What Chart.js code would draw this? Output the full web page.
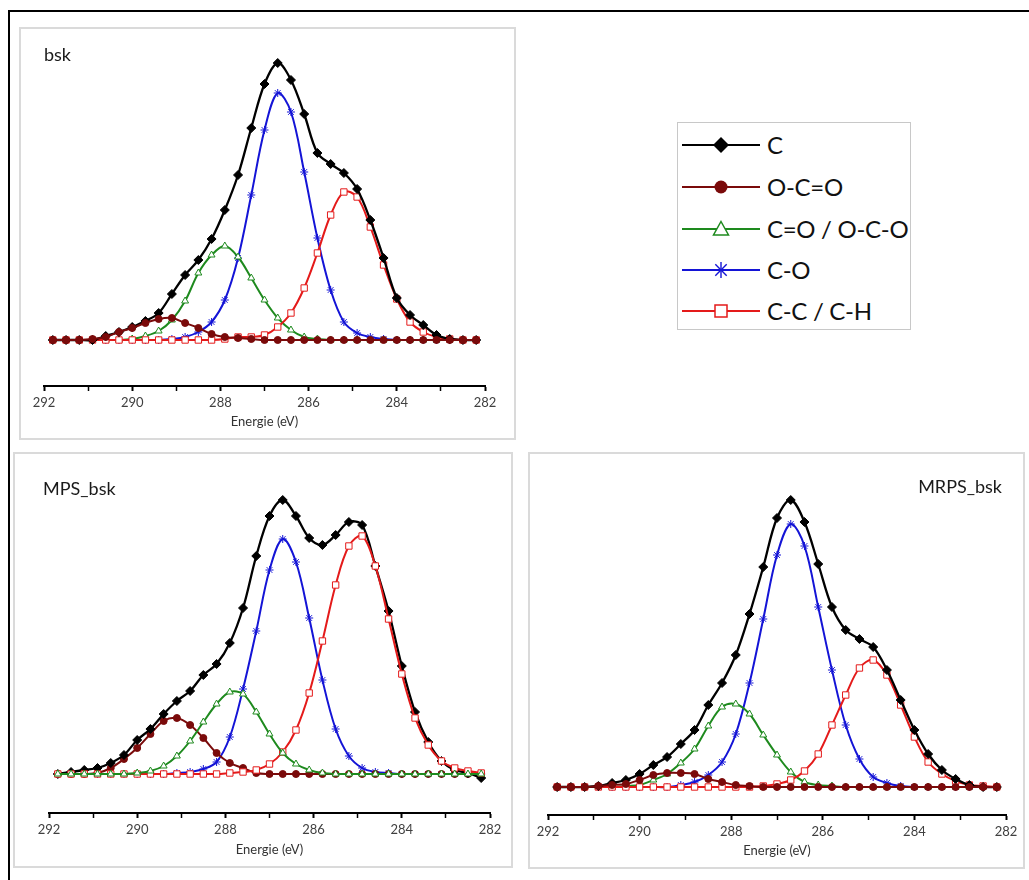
<!DOCTYPE html>
<html>
<head>
<meta charset="utf-8">
<title>XPS C1s</title>
<script src="https://cdn.jsdelivr.net/npm/chart.js@4.4.1/dist/chart.umd.min.js"></script>
<style>
  body { margin: 0; background: #fff; font-family: Lato, "Noto Sans", sans-serif; }
  #page { position: relative; width: 1029px; height: 880px; overflow: hidden; }
  .frame { position: absolute; left: 8px; top: 10px; width: 1100px; height: 900px;
           border-top: 2px solid #000; border-left: 2px solid #000; }
  .panel { position: absolute; box-sizing: border-box; border: 2px solid #dadada; background: #fff; }
  .panel canvas { position: absolute; left: 0; top: 0; }
  .tag { position: absolute; font-size: 18px; line-height: 18px; color: #1a1a1a; white-space: nowrap; }
  #legend { position: absolute; left: 677px; top: 122px; width: 234px; height: 208px;
            box-sizing: border-box; border: 1px solid #c8c8c8; background: #fff; }
  .lg-sym { position: absolute; left: 4px; width: 78px; height: 24px; }
  .lg-txt { position: absolute; left: 89px; font-size: 24px; line-height: 24px; color: #111;
            white-space: nowrap; letter-spacing: -0.3px; }
</style>
</head>
<body>
<div id="page">
  <div class="frame"></div>

  <div class="panel" style="left:19px; top:27px; width:497px; height:413px;">
    <canvas id="chartBsk" width="493" height="409"></canvas>
  </div>
  <div class="tag" style="left:44px; top:45px;">bsk</div>

  <div class="panel" style="left:13px; top:452px; width:500px; height:416px;">
    <canvas id="chartMps" width="496" height="412"></canvas>
  </div>
  <div class="tag" style="left:43px; top:479px;">MPS_bsk</div>

  <div class="panel" style="left:528px; top:452px; width:497px; height:417px;">
    <canvas id="chartMrps" width="493" height="413"></canvas>
  </div>
  <div class="tag" style="right:27px; top:477px;">MRPS_bsk</div>

  <div id="legend"></div>
</div>

<script>
// Energie (eV), points de mesure
const energies = [291.8, 291.5, 291.2, 290.9, 290.6, 290.3, 290.0, 289.7, 289.4, 289.1, 288.8,
                  288.5, 288.2, 287.9, 287.6, 287.3, 287.0, 286.7, 286.4, 286.1, 285.8, 285.5,
                  285.2, 284.9, 284.6, 284.3, 284.0, 283.7, 283.4, 283.1, 282.8, 282.5, 282.2];

const xTicks = [292, 290, 288, 286, 284, 282];

const seriesNames = ['C', 'O-C=O', 'C=O / O-C-O', 'C-O', 'C-C / C-H'];

// bsk (intensité, u.a.)
const bskC     = [0, 0, 0, 0, 4, 8, 13, 19, 27, 46, 65, 80, 101, 130, 165, 212, 256, 277, 260, 226, 187, 176, 167, 151, 120, 82, 42, 25, 15, 5, 1, 0, 0];
const bskOCO   = [0, 0, 0, 1, 3, 8, 12, 17, 21, 22, 17, 12, 6, 3, 2, 1, 0, 0, 0, 0, 0, 0, 0, 0, 0, 0, 0, 0, 0, 0, 0, 0, 0];
const bskCO2   = [0, 0, 0, 0, 0, 0, 1, 4, 9, 20, 39, 67, 85, 94, 83, 62, 40, 22, 10, 3, 1, 0, 0, 0, 0, 0, 0, 0, 0, 0, 0, 0, 0];
const bskCO    = [0, 0, 0, 0, 0, 0, 0, 0, 0, 1, 3, 8, 18, 40, 82, 145, 210, 247, 228, 168, 102, 50, 18, 7, 3, 1, 0, 0, 0, 0, 0, 0, 0];
const bskCC    = [0, 0, 0, 0, 0, 0, 0, 0, 0, 0, 0, 0, 0, 1, 3, 3, 5, 13, 27, 52, 87, 125, 148, 143, 113, 75, 41, 18, 8, 3, 1, 0, 0];

// MPS_bsk
const mpsC     = [0, 2, 4, 6, 11, 19, 34, 45, 60, 73, 83, 99, 110, 131, 166, 218, 258, 274, 258, 236, 229, 239, 252, 249, 208, 163, 108, 62, 32, 13, 4, 1, -4];
const mpsOCO   = [0, 0, 0, 1, 6, 15, 26, 40, 53, 56, 49, 36, 21, 11, 6, 1, 0, 0, 0, 0, 0, 0, 0, 0, 0, 0, 0, 0, 0, 0, 0, 0, 0];
const mpsCO2   = [0, 0, 0, 0, 0, 0, 1, 3, 8, 18, 33, 52, 70, 82, 80, 62, 40, 21, 10, 4, 1, 0, 0, 0, 0, 0, 0, 0, 0, 0, 0, 0, 0];
const mpsCO    = [0, 0, 0, 0, 0, 0, 0, 0, 0, 1, 2, 5, 12, 37, 85, 143, 204, 235, 212, 156, 94, 45, 18, 6, 2, 1, 0, 0, 0, 0, 0, 0, 0];
const mpsCC    = [0, 0, 0, 0, 0, 0, 0, 0, 0, 0, 0, 0, 0, 1, 2, 4, 10, 22, 44, 81, 133, 189, 228, 238, 208, 155, 100, 56, 29, 13, 6, 3, 1];

// MRPS_bsk
const mrpsC    = [0, 0, 0, 1, 4, 7, 13, 22, 30, 43, 57, 82, 104, 132, 173, 220, 269, 287, 265, 223, 180, 157, 148, 140, 117, 87, 57, 33, 17, 8, 2, 0, 0];
const mrpsOCO  = [0, 0, 0, 1, 2, 3, 7, 12, 14, 14, 13, 8, 5, 2, 1, 0, 0, 0, 0, 0, 0, 0, 0, 0, 0, 0, 0, 0, 0, 0, 0, 0, 0];
const mrpsCO2  = [0, 0, 0, 0, 0, 1, 2, 7, 13, 24, 38, 61, 80, 83, 73, 52, 32, 15, 5, 2, 1, 0, 0, 0, 0, 0, 0, 0, 0, 0, 0, 0, 0];
const mrpsCO   = [0, 0, 0, 0, 0, 0, 0, 0, 0, 2, 5, 12, 25, 53, 104, 168, 232, 263, 241, 180, 117, 62, 28, 10, 4, 1, 0, 0, 0, 0, 0, 0, 0];
const mrpsCC   = [0, 0, 0, 0, 0, 0, 0, 0, 0, 0, 0, 0, 0, 0, 0, 1, 3, 7, 16, 33, 62, 92, 119, 127, 112, 82, 50, 25, 13, 6, 2, 1, 0];

// style de chaque composante
const styles = [
    { color: '#000000', point: 'rectRot',  radius: 4.5, fill: '#000000', width: 2.3 },
    { color: '#7a0a0a', point: 'circle',   radius: 3.5, fill: '#7a0a0a', width: 2 },
    { color: '#1e8a1e', point: 'triangle', radius: 4,   fill: '#ffffff', width: 2 },
    { color: '#1414d6', point: 'star',     radius: 4,   fill: '#1414d6', width: 2 },
    { color: '#e41a1a', point: 'rect',     radius: 4.5, fill: '#ffffff', width: 2 }
];

function toPoints(values) {
    return energies.map((e, i) => ({ x: e, y: values[i] }));
}

function makeChart(id, values, orders, yMin, yMax, pad, axisHeight) {
    const ctx = document.getElementById(id).getContext('2d');
    const datasets = values.map((v, k) => ({
        label: seriesNames[k],
        data: toPoints(v),
        borderColor: styles[k].color,
        borderWidth: styles[k].width,
        pointStyle: styles[k].point,
        pointRadius: styles[k].radius,
        pointBackgroundColor: styles[k].fill,
        pointBorderColor: styles[k].color,
        pointBorderWidth: 1,
        tension: 0.35,
        fill: false,
        order: orders[k]
    }));
    return new Chart(ctx, {
        type: 'line',
        data: { datasets: datasets },
        options: {
            responsive: false,
            animation: false,
            layout: { padding: pad },
            plugins: { legend: { display: false }, tooltip: { enabled: false } },
            scales: {
                x: {
                    type: 'linear',
                    reverse: true,
                    min: 282,
                    max: 292,
                    border: { display: true, color: '#000', width: 2 },
                    grid: { drawOnChartArea: false, drawTicks: true, tickLength: 5, tickColor: '#000',
                            tickWidth: c => (xTicks.includes(c.tick.value) ? 2 : 1.5) },
                    ticks: {
                        stepSize: 1,
                        autoSkip: false,
                        maxRotation: 0,
                        padding: 4,
                        color: '#404040',
                        font: { family: 'Lato', size: 13 },
                        callback: v => (xTicks.includes(v) ? String(v) : '')
                    },
                    title: {
                        display: true,
                        text: 'Energie (eV)',
                        color: '#333',
                        font: { family: 'Lato', size: 13 },
                        padding: { top: 0, bottom: 8 }
                    },
                    afterFit: scale => { scale.height = axisHeight; }
                },
                y: { display: false, min: yMin, max: yMax }
            }
        }
    });
}

makeChart('chartBsk', [bskC, bskOCO, bskCO2, bskCO, bskCC], [1, 0, 3, 4, 2],
          -46, 300, { left: 23, right: 29, top: 11, bottom: 0 }, 52);
makeChart('chartMps', [mpsC, mpsOCO, mpsCO2, mpsCO, mpsCC], [2, 3, 0, 4, 1],
          -39, 309, { left: 34, right: 21, top: 11, bottom: 0 }, 53);
makeChart('chartMrps', [mrpsC, mrpsOCO, mrpsCO2, mrpsCO, mrpsCC], [1, 0, 3, 4, 2],
          -28, 322, { left: 18, right: 17, top: 11, bottom: 0 }, 52);

// légende séparée (ligne + symbole)
const legendRows = [145, 187, 229, 270, 311];
const markers = [
    c => `<polygon points="39,4 47,12 39,20 31,12" fill="${c}"/>`,
    c => `<circle cx="39" cy="12" r="6.5" fill="${c}"/>`,
    c => `<polygon points="39,4.5 46.5,18 31.5,18" fill="#fff" stroke="${c}" stroke-width="1.5"/>`,
    c => `<g stroke="${c}" stroke-width="1.4"><line x1="39" y1="4" x2="39" y2="20"/><line x1="31" y1="12" x2="47" y2="12"/>` +
         `<line x1="33.3" y1="6.3" x2="44.7" y2="17.7"/><line x1="33.3" y1="17.7" x2="44.7" y2="6.3"/></g>`,
    c => `<rect x="33" y="6" width="12" height="12" fill="#fff" stroke="${c}" stroke-width="1.5"/>`
];
const legend = document.getElementById('legend');
seriesNames.forEach((name, k) => {
    const top = legendRows[k] - 122;
    legend.innerHTML +=
        `<svg class="lg-sym" style="top:${top - 13}px" viewBox="0 0 78 24">` +
        `<line x1="0" y1="12" x2="78" y2="12" stroke="${styles[k].color}" stroke-width="2"/>` +
        markers[k](styles[k].color) + `</svg>` +
        `<div class="lg-txt" style="top:${top - 13.5}px">${name}</div>`;
});
</script>
</body>
</html>
